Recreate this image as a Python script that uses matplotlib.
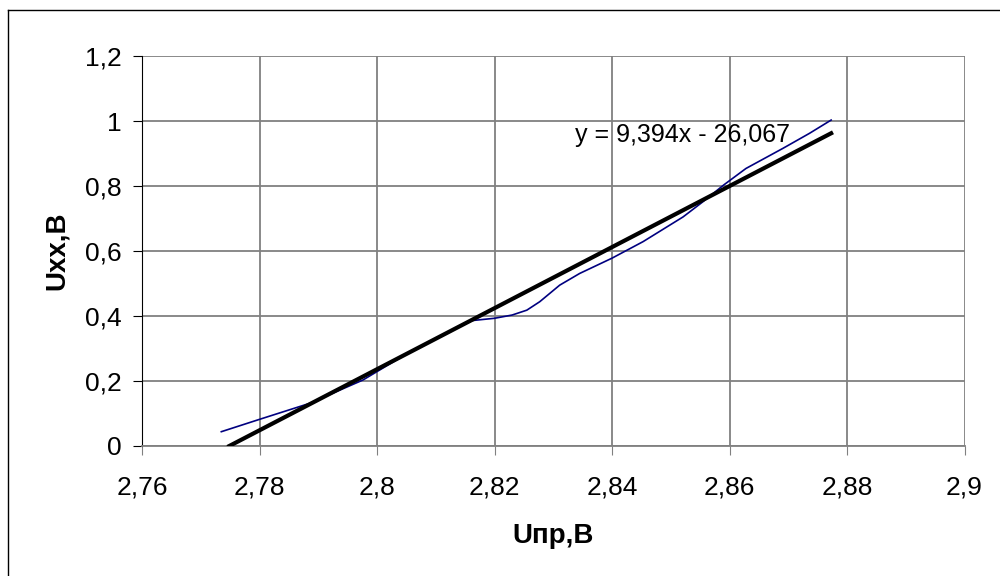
import matplotlib.pyplot as plt
import numpy as np
from matplotlib.ticker import FuncFormatter, MultipleLocator
from matplotlib.lines import Line2D

plt.rcParams['font.family'] = ['Liberation Sans', 'DejaVu Sans']

u_pr = [2.7735, 2.7800, 2.7885, 2.7976, 2.8050, 2.8130, 2.8162, 2.8200, 2.8230,
        2.8255, 2.8277, 2.8311, 2.8345, 2.8400, 2.8453, 2.8521, 2.8555, 2.8590,
        2.8628, 2.8691, 2.8736, 2.8773]
u_xx = [0.044, 0.082, 0.131, 0.203, 0.283, 0.357, 0.386, 0.393, 0.403,
        0.418, 0.444, 0.495, 0.531, 0.578, 0.629, 0.705, 0.752, 0.803,
        0.854, 0.916, 0.962, 1.003]

# linear trend
slope = 9.394
intercept = -26.067

fig = plt.figure(figsize=(10, 5.76), dpi=100)
ax = fig.add_axes([0.142, 0.2257, 0.8225, 0.677])

ax.plot(u_pr, u_xx, color='#000080', lw=1.2, zorder=3)

x0 = -intercept / slope
xs = np.array([x0, max(u_pr)])
ax.plot(xs, slope * xs + intercept, color='black', lw=3, zorder=4)

ax.set_xlim(2.76, 2.9)
ax.set_ylim(0, 1.2)
ax.xaxis.set_major_locator(MultipleLocator(0.02))
ax.yaxis.set_major_locator(MultipleLocator(0.2))
fmt = FuncFormatter(lambda v, p: ('%g' % round(v, 3)).replace('.', ','))
ax.xaxis.set_major_formatter(fmt)
ax.yaxis.set_major_formatter(fmt)

ax.grid(True, color='#808080', lw=1.3)
ax.set_axisbelow(True)
for s in ['top', 'right']:
    ax.spines[s].set_visible(False)
ax.spines['left'].set_color('black')
ax.spines['bottom'].set_color('#808080')
ax.spines['bottom'].set_linewidth(1.3)
ax.tick_params(axis='both', direction='out', length=6.5, labelsize=19)
ax.tick_params(axis='y', pad=8)
ax.tick_params(axis='x', color='#808080', pad=15)

ax.set_xlabel('Uпр,В', fontsize=20, fontweight='bold', labelpad=17)
ax.set_ylabel('Uxx,В', fontsize=20, fontweight='bold', labelpad=11)

ax.text(2.8337, 0.935, 'y = 9,394x - 26,067', fontsize=18, zorder=5)

# outer chart border (cropped on the right and bottom)
fig.add_artist(Line2D([0.008, 0.008], [0.0, 1 - 10 / 576], transform=fig.transFigure, color='black', lw=1))
fig.add_artist(Line2D([0.008, 1.0], [1 - 10 / 576, 1 - 10 / 576], transform=fig.transFigure, color='black', lw=1))

fig.savefig('out.png', dpi=100)
